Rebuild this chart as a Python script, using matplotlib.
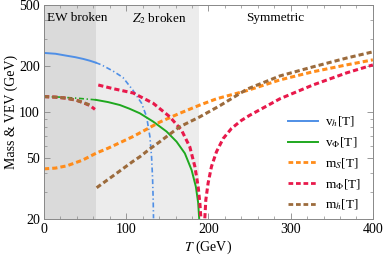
import numpy as np
import matplotlib
matplotlib.use('Agg')
import matplotlib.pyplot as plt
from matplotlib.lines import Line2D
from matplotlib.ticker import FixedLocator, NullFormatter

plt.rcParams['font.family'] = 'serif'
plt.rcParams['font.serif'] = ['Liberation Serif', 'DejaVu Serif']
plt.rcParams['mathtext.fontset'] = 'stix'

# region boundaries (GeV)
t_ew = 63
t_z2 = 189

# v_h: solid below t_ew, dot-dashed above
vh_T1 = [0, 14, 27.6, 38, 47.8, 56, 63]
vh_1 = [243, 240, 233, 228, 222, 216, 210]
vh_T2 = [63, 70, 84, 96, 108, 118.7, 124.8, 128.8, 130.8, 132, 132.8, 133.2]
vh_2 = [210, 203, 185, 168, 139, 114, 93, 69, 51, 37.6, 26.6, 20.2]

# v_Phi: dot-dashed below t_ew, solid above
vp_T1 = [0, 20, 40, 63]
vp_1 = [126, 125, 123, 120]
vp_T2 = [63, 78, 92.3, 104, 116.6, 132.8, 149.1, 161.2, 171.3, 179.5, 184.7,
         187.5, 188.7]
vp_2 = [120, 116, 111, 105, 98, 86.5, 74.5, 64, 53.7, 41.8, 32.5, 25.5, 20.3]

# m_S
ms_T = [0, 14, 28, 47, 64, 78, 92.3, 108, 116.6, 141, 165, 189.6, 210, 247,
        287, 327, 368, 400]
ms = [42.5, 43, 44.5, 48.5, 54, 58, 63, 69, 73, 86, 98, 111, 122, 138, 162,
      183, 203, 219]

# m_Phi: three branches
mp_T1 = [0, 14, 27.6, 40, 47.8, 56, 62]
mp_1 = [126, 125, 123, 119, 115, 110, 104]
mp_T2 = [66, 84, 108.5, 132.8, 153, 167.3, 177.4, 183.5, 187.5, 189.6, 190.8]
mp_2 = [150, 142, 133, 114, 93, 76, 59, 44, 32.5, 25.3, 20.3]
mp_T3 = [195.6, 196.8, 199.6, 203.7, 209.8, 217.9, 228, 240, 250, 287, 327,
         368, 400]
mp_3 = [20.2, 26.6, 34.3, 44, 55, 67, 78, 88, 95, 122, 150, 180, 203]

# m_h: two branches
mh_T1 = [0, 14, 27.6, 40, 47.8, 56]
mh_1 = [126, 125, 123, 119, 115, 111]
mh_T2 = [64, 89, 108, 116.6, 129, 141, 149, 165, 189.6, 214, 247, 287, 327,
         368, 400]
mh_2 = [32, 40, 47.5, 51, 57.5, 64, 69, 80, 93, 110, 141, 172, 197, 225, 247]

c_blue = '#4f8fe6'
c_green = '#1fa81f'
c_orange = '#ff8c1a'
c_red = '#e8194b'
c_brown = '#9c6b3c'

fig = plt.figure(figsize=(3.86, 2.61), dpi=100)
ax = fig.add_axes([0.114, 0.161, 0.852, 0.820])

ax.axvspan(0, t_ew, color='#dadada', lw=0, zorder=0)
ax.axvspan(t_ew, t_z2, color='#ececec', lw=0, zorder=0)

dd = (0, (3, 1.6, 0.8, 1.6))
mdash = (0, (1.7, 1.0))

ax.plot(vh_T1, vh_1, color=c_blue, lw=1.4)
ax.plot(vh_T2, vh_2, color=c_blue, lw=1.2, ls=dd)
ax.plot(vp_T1, vp_1, color=c_green, lw=1.2, ls=dd)
ax.plot(vp_T2, vp_2, color=c_green, lw=1.4)
ax.plot(ms_T, ms, color=c_orange, lw=2.2, ls=mdash)
ax.plot(mp_T1, mp_1, color=c_red, lw=2.2, ls=mdash)
ax.plot(mp_T2, mp_2, color=c_red, lw=2.2, ls=mdash)
ax.plot(mp_T3, mp_3, color=c_red, lw=2.2, ls=mdash)
ax.plot(mh_T1, mh_1, color=c_brown, lw=2.2, ls=mdash)
ax.plot(mh_T2, mh_2, color=c_brown, lw=2.2, ls=mdash)

ax.set_yscale('log')
ax.set_xlim(0, 400)
ax.set_ylim(20, 500)
ax.set_xticks([0, 100, 200, 300, 400])
ax.set_xticks(np.arange(0, 401, 20), minor=True)
ax.yaxis.set_major_locator(FixedLocator([20, 50, 100, 200, 500]))
ax.set_yticklabels(['20', '50', '100', '200', '500'])
ax.yaxis.set_minor_locator(FixedLocator([30, 40, 60, 70, 80, 90, 300, 400]))
ax.yaxis.set_minor_formatter(NullFormatter())

ax.tick_params(which='both', direction='in', top=True, right=True,
               color='#888888', labelsize=10, pad=3)
ax.tick_params(which='major', length=4, width=0.6)
ax.tick_params(which='minor', length=2.3, width=0.5)
for s in ax.spines.values():
    s.set_color('#888888')
    s.set_linewidth(0.7)

ax.set_xlabel('$T$ (GeV)', fontsize=10, labelpad=2)
ax.set_ylabel('Mass & VEV (GeV)', fontsize=10, labelpad=1)

ax.text(40, 410, 'EW broken', fontsize=9.5, ha='center', va='center')
ax.text(140, 410, '$Z_2$ broken', fontsize=9.5, ha='center', va='center')
ax.text(281, 410, 'Symmetric', fontsize=9.5, ha='center', va='center')

handles = [
    Line2D([], [], color=c_blue, lw=1.4),
    Line2D([], [], color=c_green, lw=1.4),
    Line2D([], [], color=c_orange, lw=2.0, ls=mdash),
    Line2D([], [], color=c_red, lw=2.0, ls=mdash),
    Line2D([], [], color=c_brown, lw=2.0, ls=mdash),
]
labels = ['v$_h$[T]', 'v$_\\Phi$[T]', 'm$_S$[T]', 'm$_\\Phi$[T]', 'm$_h$[T]']
ax.legend(handles, labels, loc='lower right', frameon=False, fontsize=9.5,
          handlelength=2.3, handletextpad=0.5, labelspacing=0.47,
          bbox_to_anchor=(1.0, -0.025))

fig.savefig('out.png', dpi=100)
